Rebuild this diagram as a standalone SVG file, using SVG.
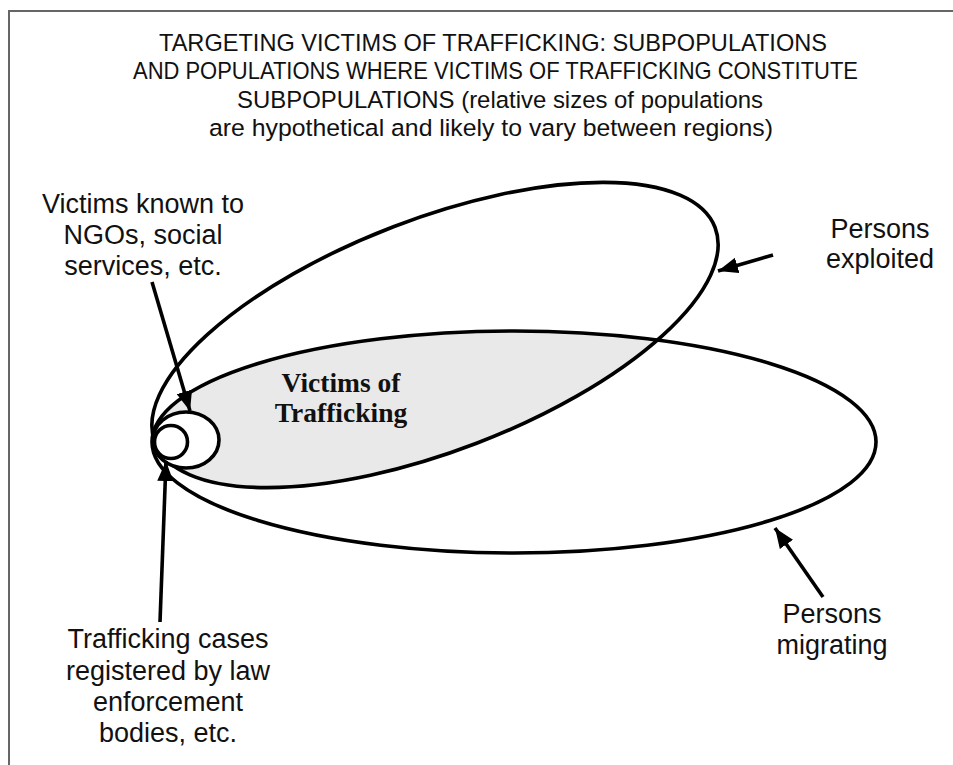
<svg xmlns="http://www.w3.org/2000/svg" width="953" height="765" viewBox="0 0 953 765">
<style>
.frame{fill:none;stroke:#666;stroke-width:2}
.pop{fill:none;stroke:#000;stroke-width:3.6}
.sub{fill:#fff;stroke:#000;stroke-width:3.6}
.conn{stroke:#000;stroke-width:3.6;fill:none;marker-end:url(#ah)}
.title{font-family:"Liberation Sans",Arial,sans-serif;font-size:24.5px;fill:#111}
.lbl{font-family:"Liberation Sans",Arial,sans-serif;font-size:27px;fill:#111;text-anchor:middle}
.vot{font-family:"Liberation Serif","Times New Roman",serif;font-size:27.5px;font-weight:bold;fill:#111;text-anchor:middle}
</style>
<defs>
<marker id="ah" markerUnits="userSpaceOnUse" markerWidth="22" markerHeight="16" refX="20" refY="8" orient="auto">
<path d="M0,0 L20,8 L0,16 z" fill="#000"/>
</marker>
<clipPath id="clipUpper">
<ellipse cx="435" cy="335" rx="300" ry="116" transform="rotate(-21 435 335)"/>
</clipPath>
</defs>
<rect width="953" height="765" fill="#fff"/>
<rect class="frame" x="9" y="11" width="960" height="780"/>
<g id="title">
<text class="title" x="159" y="51" textLength="668" lengthAdjust="spacingAndGlyphs">TARGETING VICTIMS OF TRAFFICKING: SUBPOPULATIONS</text>
<text class="title" x="133" y="79" textLength="725" lengthAdjust="spacingAndGlyphs">AND POPULATIONS WHERE VICTIMS OF TRAFFICKING CONSTITUTE</text>
<text class="title" x="237" y="108" textLength="526" lengthAdjust="spacingAndGlyphs">SUBPOPULATIONS (relative sizes of populations</text>
<text class="title" x="209" y="136" textLength="564" lengthAdjust="spacingAndGlyphs">are hypothetical and likely to vary between regions)</text>
</g>
<g id="victims-of-trafficking">
<ellipse cx="514" cy="442" rx="362" ry="111" fill="#e9e9e9" clip-path="url(#clipUpper)"/>
<text class="vot" x="341" y="392">Victims of</text>
<text class="vot" x="341" y="422">Trafficking</text>
</g>
<g id="persons-exploited">
<ellipse class="pop" cx="435" cy="335" rx="300" ry="116" transform="rotate(-21 435 335)"/>
<text class="lbl" x="880" y="238">Persons</text>
<text class="lbl" x="880" y="268">exploited</text>
</g>
<g id="persons-migrating">
<ellipse class="pop" cx="514" cy="442" rx="362" ry="111"/>
<text class="lbl" x="832" y="623">Persons</text>
<text class="lbl" x="832" y="654">migrating</text>
</g>
<g id="victims-known-ngos">
<ellipse class="sub" cx="186" cy="440" rx="33" ry="28"/>
<text class="lbl" x="143" y="213">Victims known to</text>
<text class="lbl" x="143" y="244">NGOs, social</text>
<text class="lbl" x="143" y="275">services, etc.</text>
</g>
<g id="trafficking-cases">
<circle class="sub" cx="171" cy="442" r="16.5"/>
<text class="lbl" x="168" y="648">Trafficking cases</text>
<text class="lbl" x="168" y="680">registered by law</text>
<text class="lbl" x="168" y="711">enforcement</text>
<text class="lbl" x="168" y="742">bodies, etc.</text>
</g>
<g id="connectors">
<line class="conn" x1="152" y1="282" x2="190" y2="411"/>
<line class="conn" x1="160" y1="622" x2="166" y2="461"/>
<line class="conn" x1="773" y1="255" x2="718" y2="271"/>
<line class="conn" x1="823" y1="597" x2="775" y2="528"/>
</g>
</svg>
